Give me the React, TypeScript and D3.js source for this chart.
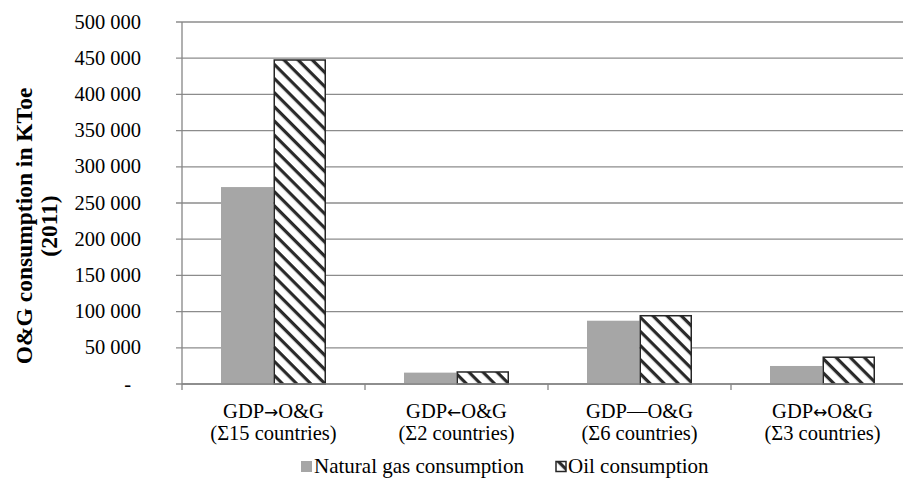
import React from "react";
import * as d3 from "d3";

const categories = ["GDP→O&G", "GDP←O&G", "GDP—O&G", "GDP↔O&G"];
const subLabels = ["(Σ15 countries)", "(Σ2 countries)", "(Σ6 countries)", "(Σ3 countries)"];
const seriesNames = ["Natural gas consumption", "Oil consumption"];
const gasValues = [272000, 15700, 87400, 24900];
const oilValues = [447500, 16600, 94300, 37000];
const yTicks = [0, 50000, 100000, 150000, 200000, 250000, 300000, 350000, 400000, 450000, 500000];

const W = 903;
const H = 483;
const left = 182;
const top = 22;
const bottom = 384;
const catW = 183;
const FONT = "'Liberation Serif', 'Times New Roman', 'DejaVu Serif', serif";
const ARROW_FONT = "'DejaVu Sans', sans-serif";

function CatLabel({ text }: { text: string }) {
  const parts = text.split(/([→←↔])/);
  return (
    <>
      {parts.map((p, k) =>
        /[→←↔]/.test(p) ? (
          <tspan key={k} fontFamily={ARROW_FONT} fontSize={17}>
            {p}
          </tspan>
        ) : (
          <tspan key={k}>{p}</tspan>
        )
      )}
    </>
  );
}

export default function App() {
  const x = d3.scaleBand<string>().domain(categories).range([left, left + catW * categories.length]).padding(0);
  const inner = d3.scaleBand<string>().domain(seriesNames).range([0, 105]).padding(0);
  const y = d3.scaleLinear().domain([0, 500000]).range([bottom, top]);
  const fmt = (v: number) => (v === 0 ? "-" : d3.format(",")(v).replace(/,/g, " "));
  const data = categories.map((c, i) => ({ c, vals: [gasValues[i], oilValues[i]] }));

  return (
    <svg width={W} height={H} style={{ position: "absolute", left: 0, top: 0, background: "#fff" }}>
      <defs>
        <pattern id="hatch" patternUnits="userSpaceOnUse" width="10" height="10" patternTransform="rotate(45)">
          <rect width="10" height="10" fill="#fff" />
          <rect x="0" y="0" width="10" height="3.2" fill="#2a2a2a" />
        </pattern>
      </defs>
      {yTicks.map((t) => (
        <g key={t}>
          <line x1={left - 6} x2={W + 20} y1={y(t)} y2={y(t)} stroke="#8c8c8c" strokeWidth={1.3} />
          <text x={t === 0 ? 131 : 141} y={y(t) + 6.5} textAnchor="end" fontFamily={FONT} fontSize={20.5} fill="#000">
            {fmt(t)}
          </text>
        </g>
      ))}
      <line x1={left} x2={left} y1={top} y2={bottom} stroke="#868686" strokeWidth={1.3} />
      {data.map((d) => (
        <g key={d.c}>
          {d.vals.map((v, j) => {
            const bx = (x(d.c) as number) + x.bandwidth() / 2 - 52.5 + (inner(seriesNames[j]) as number);
            const by = y(v);
            return j === 0 ? (
              <rect key={j} x={bx} y={by} width={inner.bandwidth()} height={bottom - by} fill="#a6a6a6" />
            ) : (
              <rect key={j} x={bx + 0.75} y={by} width={inner.bandwidth() - 1.5} height={bottom - by} fill="url(#hatch)" stroke="#262626" strokeWidth={1.5} />
            );
          })}
        </g>
      ))}
      <line x1={left} x2={W + 20} y1={bottom} y2={bottom} stroke="#868686" strokeWidth={1.5} />
      {categories.map((c, i) => (
        <g key={c}>
          <line x1={x(c) as number} x2={x(c) as number} y1={bottom} y2={bottom + 6} stroke="#868686" strokeWidth={1.3} />
          <text x={(x(c) as number) + x.bandwidth() / 2} y={418} textAnchor="middle" fontFamily={FONT} fontSize={20.5}>
            <CatLabel text={c} />
          </text>
          <text x={(x(c) as number) + x.bandwidth() / 2} y={440} textAnchor="middle" fontFamily={FONT} fontSize={20.5}>
            {subLabels[i]}
          </text>
        </g>
      ))}
      <g transform="translate(0,226) rotate(-90)">
        <text x={0} y={32} textAnchor="middle" fontFamily={FONT} fontSize={23.5} fontWeight="bold">
          O&amp;G consumption in KToe
        </text>
        <text x={0} y={57} textAnchor="middle" fontFamily={FONT} fontSize={23.5} fontWeight="bold">
          (2011)
        </text>
      </g>
      <rect x={301} y={461} width={11} height={11} fill="#a6a6a6" />
      <text x={314} y={473} fontFamily={FONT} fontSize={21}>
        {seriesNames[0]}
      </text>
      <rect x={556} y={461.5} width={10} height={10} fill="url(#hatch)" stroke="#262626" strokeWidth={1.5} />
      <text x={568} y={473} fontFamily={FONT} fontSize={21}>
        {seriesNames[1]}
      </text>
    </svg>
  );
}
